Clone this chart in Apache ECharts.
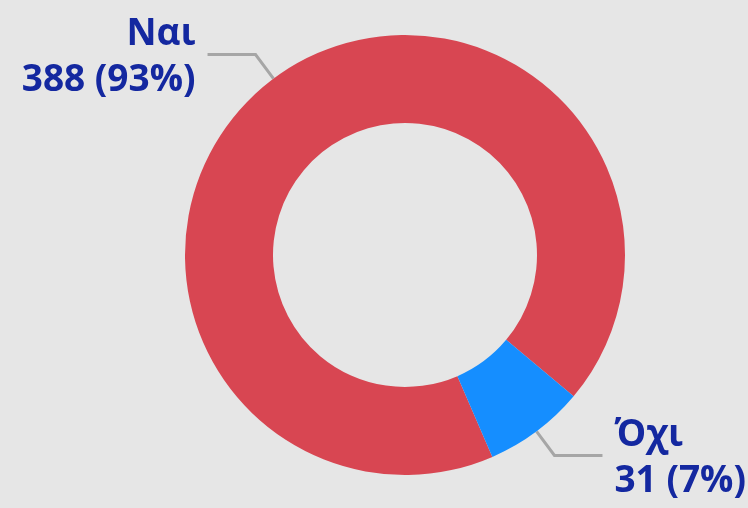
<!DOCTYPE html>
<html>
<head>
<meta charset="utf-8">
<script src="https://cdn.jsdelivr.net/npm/echarts@6/dist/echarts.min.js"></script>
<style>
  html, body { margin: 0; padding: 0; background: #e6e6e6; }
  #chart { width: 748px; height: 508px; }
</style>
</head>
<body>
<div id="chart"></div>
<script>
// answers and counts
var categories = ["Ναι", "Όχι"];
var counts = [388, 31];
var colors = ["#d84652", "#158eff"];

var pieData = [];
for (var i = 0; i < categories.length; i++) {
  pieData.push({
    name: categories[i],
    value: counts[i],
    itemStyle: { color: colors[i] }
  });
}

var txt = {
  color: "#1428a0",
  fontFamily: "Open Sans",
  fontWeight: "bold",
  fontSize: 37,
  lineHeight: 52
};

var myChart = echarts.init(document.getElementById("chart"));
var option = {
  backgroundColor: "#e6e6e6",
  animation: false,
  series: [
    {
      type: "pie",
      // bigger box than the canvas so labels are not pushed back inside
      left: 0,
      top: -60,
      width: 748,
      height: 628,
      center: [405, 315],
      radius: [132, 220],
      startAngle: 293.4,
      clockwise: true,
      percentPrecision: 0,
      data: pieData,
      label: {
        show: true,
        formatter: "{t|{b}}\n{v|{c} ({d}%)}",
        overflow: "none",
        distanceToLabelLine: 12,
        rich: {
          t: Object.assign({ padding: [12, 0, 0, 0] }, txt),
          v: txt
        }
      },
      labelLine: {
        show: true,
        length: 30,
        length2: 48,
        lineStyle: { color: "#a6a6a6", width: 3 }
      }
    }
  ]
};
myChart.setOption(option);
</script>
</body>
</html>
